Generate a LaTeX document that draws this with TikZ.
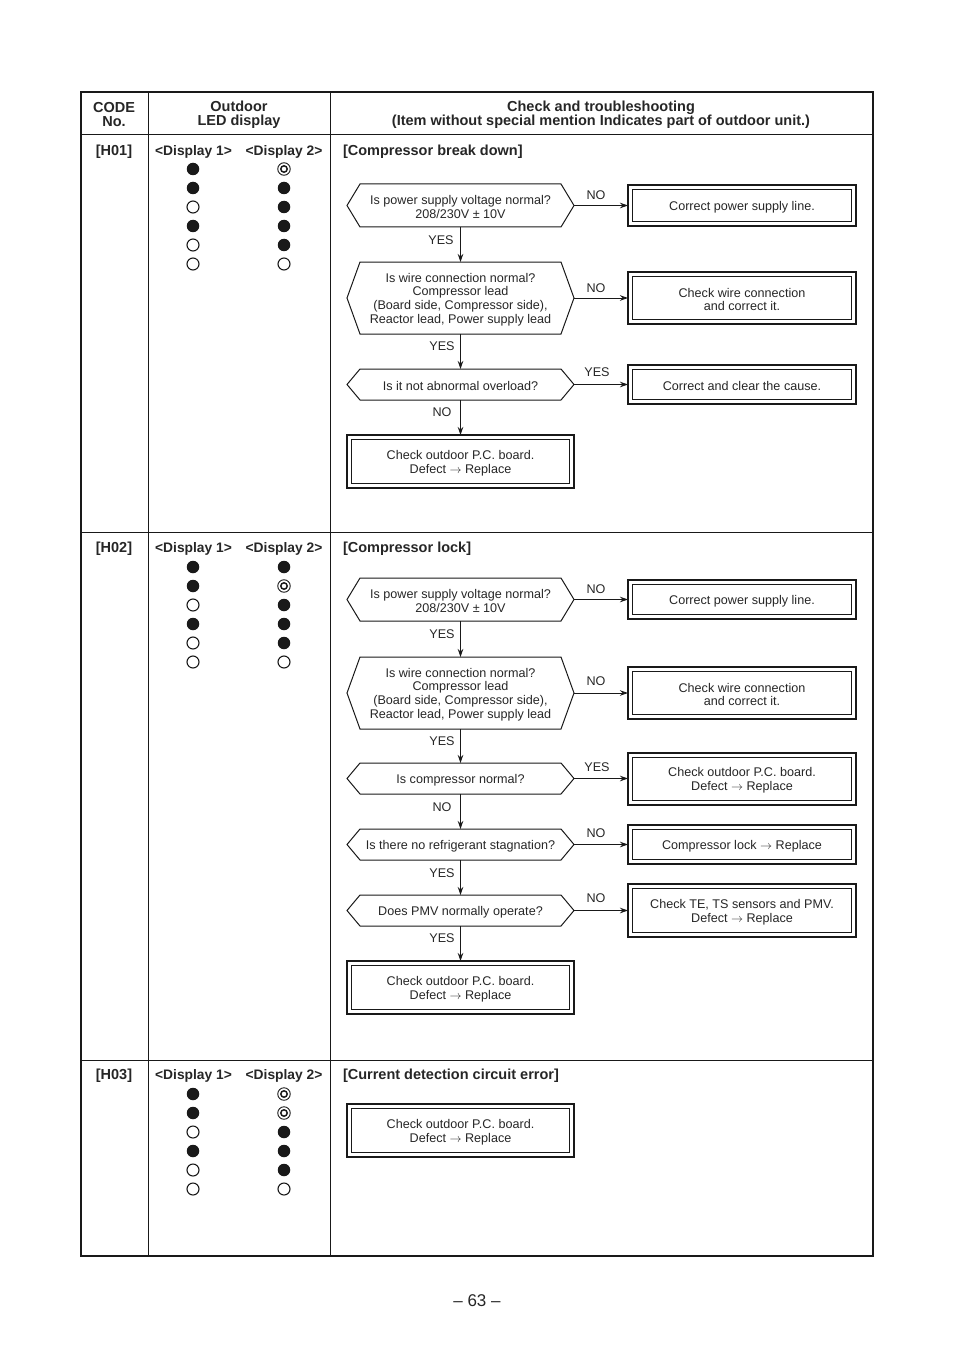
\documentclass[tikz,border=0pt]{standalone}
\usepackage{fontspec}
\setmainfont{Liberation Sans}
\usetikzlibrary{arrows.meta}
\begin{document}
\begin{tikzpicture}[x=1pt,y=-1pt,
  every node/.style={inner sep=0pt, outer sep=0pt, text=black!85},
  txt/.style={font=\fontsize{12.6}{13.8}\selectfont, align=center},
  hdr/.style={font=\fontsize{14.5}{14}\selectfont\bfseries, align=center},
  disp/.style={font=\fontsize{13.8}{14}\selectfont\bfseries},
  lbl/.style={font=\fontsize{12.6}{13.8}\selectfont},
  decframe/.style={minimum width=227pt},
  resframe/.style={draw=black!90, line width=1.9pt},
  arr/.style={draw=black!90, line width=0.9pt, -{Stealth[length=8pt,width=5.5pt]}},
  hexline/.style={draw=black!90, line width=1pt},
  tbl/.style={draw=black!90, line width=1pt},
  ledon/.style={circle, fill=black!90, minimum size=12.5pt},
  ledoff/.style={circle, draw=black!90, line width=1.1pt, minimum size=12pt},
  ledtg/.style={circle, draw=black!90, line width=0.9pt, minimum size=12.5pt},
]
\useasboundingbox (0,0) rectangle (954,1348);
\newcommand\hexframe[1]{%
  \draw[hexline] (#1.west) -- ([xshift=13pt]#1.north west) -- ([xshift=-13pt]#1.north east)
   -- (#1.east) -- ([xshift=-13pt]#1.south east) -- ([xshift=13pt]#1.south west) -- cycle;}
\newcommand\innerframe[1]{%
  \draw[line width=0.9pt, black!90] ([shift={(4.5pt,-4.5pt)}]#1.north west) rectangle ([shift={(-4.5pt,4.5pt)}]#1.south east);}
\newcommand\tgt[1]{\draw[line width=1.5pt, black!90] (#1) circle[radius=3.2pt];}
% decision: name, x, y, height, text
\newcommand\decbox[5]{%
  \node[decframe, minimum height=#4pt] (#1) at (#2,#3) {};
  \hexframe{#1}
  \node[txt] (#1t) at ([yshift=-1.5pt]#1.center) {#5};}
% result: name, x, y, width, height, text
\newcommand\resbox[6]{%
  \node[resframe, minimum width=#4pt, minimum height=#5pt] (#1) at (#2,#3) {};
  \innerframe{#1}
  \node[txt] (#1t) at ([yshift=-1.5pt]#1.center) {#6};}

% ---------- table ----------
\draw[tbl] (148,92) -- (148,1256);
\draw[tbl] (330,92) -- (330,1256);
\draw[tbl] (81,135) -- (873,135);
\draw[tbl] (81,532) -- (873,532);
\draw[tbl] (81,1060) -- (873,1060);
\draw[draw=black!90, line width=2pt] (81,92) rectangle (873,1256);

\node[hdr] (hcode) at (114,115) {CODE\\No.};
\node[hdr] (hled) at (239,115) {Outdoor\\LED display};
\node[hdr] (hcheck) at (601,115) {Check and troubleshooting\\(Item without special mention Indicates part of outdoor unit.)};

% ---------- row labels ----------
\node[hdr] (c1) at (114,152) {[H01]};
\node[hdr] (c2) at (114,549) {[H02]};
\node[hdr] (c3) at (114,1076) {[H03]};
\foreach \r/\y in {1/152,2/549,3/1076}{
  \node[disp] (da\r) at (193.5,\y) {<Display 1>};
  \node[disp] (db\r) at (284,\y) {<Display 2>};
}
\node[hdr, anchor=west] (t1) at (343,152) {[Compressor break down]};
\node[hdr, anchor=west] (t2) at (343,549) {[Compressor lock]};
\node[hdr, anchor=west] (t3) at (343,1076) {[Current detection circuit error]};

% ---------- LEDs ----------
% H01
\node[ledon]  (a11) at (193,169) {};
\node[ledon]  (a12) at (193,188) {};
\node[ledoff] (a13) at (193,207) {};
\node[ledon]  (a14) at (193,226) {};
\node[ledoff] (a15) at (193,245) {};
\node[ledoff] (a16) at (193,264) {};
\node[ledtg]  (b11) at (284,169) {}; \tgt{b11}
\node[ledon]  (b12) at (284,188) {};
\node[ledon]  (b13) at (284,207) {};
\node[ledon]  (b14) at (284,226) {};
\node[ledon]  (b15) at (284,245) {};
\node[ledoff] (b16) at (284,264) {};
% H02
\node[ledon]  (a21) at (193,567) {};
\node[ledon]  (a22) at (193,586) {};
\node[ledoff] (a23) at (193,605) {};
\node[ledon]  (a24) at (193,624) {};
\node[ledoff] (a25) at (193,643) {};
\node[ledoff] (a26) at (193,662) {};
\node[ledon]  (b21) at (284,567) {};
\node[ledtg]  (b22) at (284,586) {}; \tgt{b22}
\node[ledon]  (b23) at (284,605) {};
\node[ledon]  (b24) at (284,624) {};
\node[ledon]  (b25) at (284,643) {};
\node[ledoff] (b26) at (284,662) {};
% H03
\node[ledon]  (a31) at (193,1094) {};
\node[ledon]  (a32) at (193,1113) {};
\node[ledoff] (a33) at (193,1132) {};
\node[ledon]  (a34) at (193,1151) {};
\node[ledoff] (a35) at (193,1170) {};
\node[ledoff] (a36) at (193,1189) {};
\node[ledtg]  (b31) at (284,1094) {}; \tgt{b31}
\node[ledtg]  (b32) at (284,1113) {}; \tgt{b32}
\node[ledon]  (b33) at (284,1132) {};
\node[ledon]  (b34) at (284,1151) {};
\node[ledon]  (b35) at (284,1170) {};
\node[ledoff] (b36) at (284,1189) {};

% ---------- H01 flow ----------
\decbox{p1}{460.5}{205.5}{43}{Is power supply voltage normal?\\208/230V ± 10V}
\resbox{q1}{742}{205.5}{228}{41}{Correct power supply line.}
\draw[arr] (p1.east) -- (q1.west);
\node[lbl] (n1) at (596,195) {NO};

\decbox{p2}{460.5}{298}{72}{Is wire connection normal?\\Compressor lead\\(Board side, Compressor side),\\Reactor lead, Power supply lead}
\draw[arr] (p1.south) -- (p2.north);
\node[lbl] (y1) at (441,240) {YES};
\resbox{q2}{742}{298}{228}{52}{Check wire connection\\and correct it.}
\draw[arr] (p2.east) -- (q2.west);
\node[lbl] (n2) at (596,288) {NO};

\decbox{p3}{460.5}{384.5}{31}{Is it not abnormal overload?}
\draw[arr] (p2.south) -- (p3.north);
\node[lbl] (y2) at (442,346) {YES};
\resbox{q3}{742}{384.5}{228}{39}{Correct and clear the cause.}
\draw[arr] (p3.east) -- (q3.west);
\node[lbl] (y3) at (597,372) {YES};

\resbox{q4}{460.5}{461.5}{227}{53}{Check outdoor P.C. board.\\Defect $\rightarrow$ Replace}
\draw[arr] (p3.south) -- (q4.north);
\node[lbl] (n3) at (442,412) {NO};

% ---------- H02 flow ----------
\decbox{r1}{460.5}{599.5}{43}{Is power supply voltage normal?\\208/230V ± 10V}
\resbox{s1}{742}{599.5}{228}{39}{Correct power supply line.}
\draw[arr] (r1.east) -- (s1.west);
\node[lbl] (m1) at (596,589) {NO};

\decbox{r2}{460.5}{693}{72}{Is wire connection normal?\\Compressor lead\\(Board side, Compressor side),\\Reactor lead, Power supply lead}
\draw[arr] (r1.south) -- (r2.north);
\node[lbl] (x1) at (442,634) {YES};
\resbox{s2}{742}{693}{228}{52}{Check wire connection\\and correct it.}
\draw[arr] (r2.east) -- (s2.west);
\node[lbl] (m2) at (596,681) {NO};

\decbox{r3}{460.5}{778.5}{31}{Is compressor normal?}
\draw[arr] (r2.south) -- (r3.north);
\node[lbl] (x2) at (442,741) {YES};
\resbox{s3}{742}{779}{228}{52}{Check outdoor P.C. board.\\Defect $\rightarrow$ Replace}
\draw[arr] (r3.east) -- (r3.east -| s3.west);
\node[lbl] (x3) at (597,767) {YES};

\decbox{r4}{460.5}{844.5}{31}{Is there no refrigerant stagnation?}
\draw[arr] (r3.south) -- (r4.north);
\node[lbl] (m3) at (442,807) {NO};
\resbox{s4}{742}{844.5}{228}{39}{Compressor lock $\rightarrow$ Replace}
\draw[arr] (r4.east) -- (s4.west);
\node[lbl] (m4) at (596,833) {NO};

\decbox{r5}{460.5}{910.5}{31}{Does PMV normally operate?}
\draw[arr] (r4.south) -- (r5.north);
\node[lbl] (x4) at (442,873) {YES};
\resbox{s5}{742}{910.5}{228}{53}{Check TE, TS sensors and PMV.\\Defect $\rightarrow$ Replace}
\draw[arr] (r5.east) -- (s5.west);
\node[lbl] (m5) at (596,898) {NO};

\resbox{s6}{460.5}{987.5}{227}{53}{Check outdoor P.C. board.\\Defect $\rightarrow$ Replace}
\draw[arr] (r5.south) -- (s6.north);
\node[lbl] (x5) at (442,938) {YES};

% ---------- H03 ----------
\resbox{u1}{460.5}{1130.5}{227}{53}{Check outdoor P.C. board.\\Defect $\rightarrow$ Replace}

% ---------- page number ----------
\node[font=\fontsize{17}{18}\selectfont] (pg) at (477,1301) {– 63 –};
\end{tikzpicture}
\end{document}
